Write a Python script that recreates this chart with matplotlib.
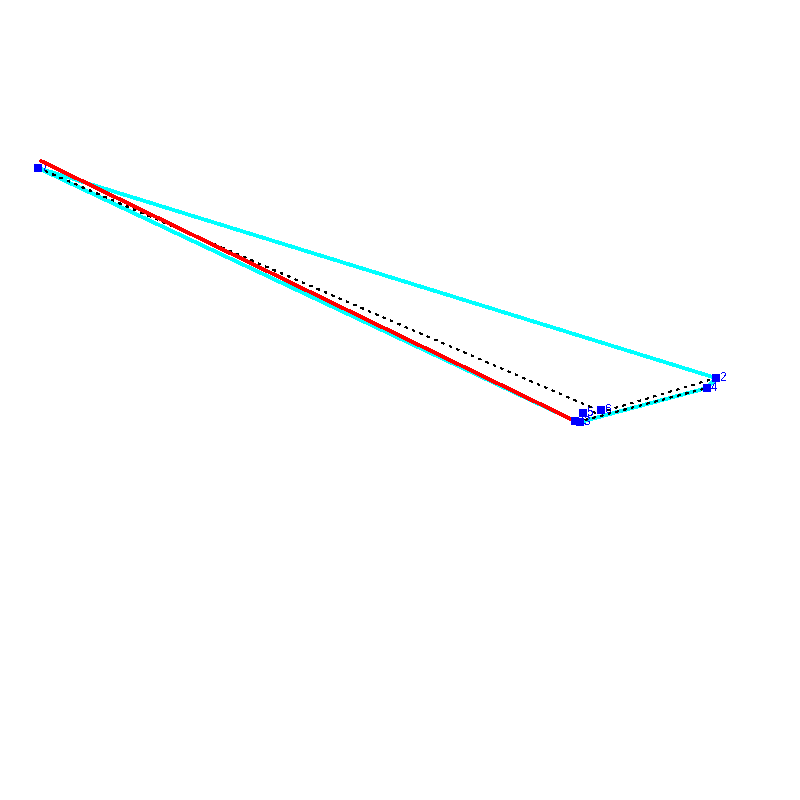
"""Polygon with its hull, a red edge and a dashed path, on a bare white canvas."""
import matplotlib
matplotlib.use("Agg")
import matplotlib.pyplot as plt

# Points (canvas units, y downwards).
POINT_IDS = ["1", "2", "3", "4", "5", "6", "7"]
POINT_X = [575, 716, 580, 707, 583, 601, 38]
POINT_Y = [421, 378, 422, 388, 413, 410, 168]

HULL_X = [38, 716, 707, 580, 575, 38]
HULL_Y = [168, 378, 388, 422, 421, 168]

RED_X = [41, 575]
RED_Y = [161, 421]

DASH_X = [38, 593, 595, 716]
DASH_Y = [168, 408, 414, 378]
DASH2_X = [585, 707]
DASH2_Y = [420, 388]


def main() -> None:
    fig = plt.figure(figsize=(8, 8), dpi=100)
    ax = fig.add_axes([0, 0, 1, 1])
    ax.set_xlim(0, 800)
    ax.set_ylim(800, 0)
    ax.axis("off")

    ax.plot(HULL_X, HULL_Y, color="#00ffff", linewidth=1.9, antialiased=False, zorder=2)
    for pid, x, y in zip(POINT_IDS, POINT_X, POINT_Y):
        ax.text(x + 4, y, pid, color="#0000ff", fontsize=8.4, family="Liberation Sans",
                ha="left", va="center", zorder=2.5, antialiased=False)
    ax.plot(DASH_X, DASH_Y, color="black", linewidth=0.5, linestyle=(0, (4, 8.6)),
            antialiased=False, zorder=3)
    ax.plot(DASH2_X, DASH2_Y, color="black", linewidth=0.5, linestyle=(0, (4, 8.6)),
            antialiased=False, zorder=3)
    ax.plot(RED_X, RED_Y, color="#ff0000", linewidth=1.9, antialiased=False, zorder=5)
    ax.scatter(POINT_X, POINT_Y, s=32, marker="s", color="#0000ff", linewidths=0, zorder=6)
    fig.savefig("out.png", dpi=100, facecolor="white")
    plt.close(fig)


if __name__ == "__main__":
    main()
